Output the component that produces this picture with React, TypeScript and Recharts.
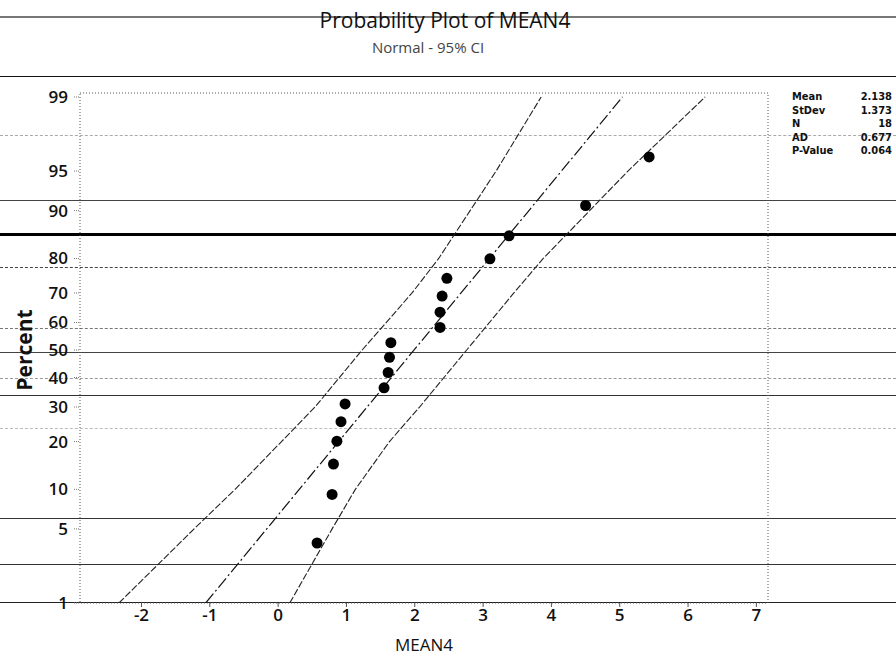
import React from "react";
import { ComposedChart, Line, Scatter, XAxis, YAxis, ReferenceArea } from "recharts";

// percent scale ticks and x ticks
const pctTicks = [1, 5, 10, 20, 30, 40, 50, 60, 70, 80, 90, 95, 99];
const xTicks = [-2, -1, 0, 1, 2, 3, 4, 5, 6, 7];

// observations (sorted) and their plotting percents
const pointX = [0.57, 0.79, 0.81, 0.86, 0.92, 0.98, 1.55, 1.61, 1.63, 1.65, 2.37, 2.37, 2.4, 2.47, 3.1, 3.38, 4.5, 5.43];
const pointPct = [3.8, 9.2, 14.7, 20.1, 25.5, 31.0, 36.4, 41.8, 47.3, 52.7, 58.2, 63.6, 69.0, 74.5, 79.9, 85.3, 90.8, 96.2];

// fitted line and 95% CI bands
const fitPct = [1, 99];
const fitX = [-1.06, 5.04];
const bandPct = [1, 5, 10, 20, 30, 50, 70, 80, 90, 95, 99];
const lowerBandX = [-2.33, -1.23, -0.63, 0.05, 0.54, 1.23, 1.96, 2.35, 2.81, 3.19, 3.85];
const upperBandX = [0.17, 0.79, 1.13, 1.63, 2.07, 2.76, 3.45, 3.88, 4.56, 5.12, 6.25];

const statLabels = ["Mean", "StDev", "N", "AD", "P-Value"];
const statValues = ["2.138", "1.373", "18", "0.677", "0.064"];

// inverse normal cdf (Acklam), used as the probability axis transform
function probit(p: number): number {
  const a = [-39.69683028665376, 220.9460984245205, -275.9285104469687, 138.357751867269, -30.66479806614716, 2.506628277459239];
  const b = [-54.47609879822406, 161.5853874140574, -155.6989798598866, 66.80131188771972, -13.28068155288572];
  const c = [-0.007784894002430293, -0.3223964580411365, -2.400758277161838, -2.549732539343734, 4.374664141464968, 2.938163982698783];
  const d = [0.007784695709041462, 0.3224671290700398, 2.445134137142996, 3.754408661907416];
  const pl = 0.02425;
  if (p < pl) {
    const q = Math.sqrt(-2 * Math.log(p));
    return (((((c[0] * q + c[1]) * q + c[2]) * q + c[3]) * q + c[4]) * q + c[5]) / ((((d[0] * q + d[1]) * q + d[2]) * q + d[3]) * q + 1);
  }
  if (p > 1 - pl) {
    const q = Math.sqrt(-2 * Math.log(1 - p));
    return -(((((c[0] * q + c[1]) * q + c[2]) * q + c[3]) * q + c[4]) * q + c[5]) / ((((d[0] * q + d[1]) * q + d[2]) * q + d[3]) * q + 1);
  }
  const q = p - 0.5;
  const r = q * q;
  return ((((((a[0] * r + a[1]) * r + a[2]) * r + a[3]) * r + a[4]) * r + a[5]) * q) / (((((b[0] * r + b[1]) * r + b[2]) * r + b[3]) * r + b[4]) * r + 1);
}

const toRows = (xs: number[], ps: number[]) => xs.map((x, i) => ({ x, z: probit(ps[i] / 100) }));

const points = toRows(pointX, pointPct);
const fit = toRows(fitX, fitPct);
const lower = toRows(lowerBandX, bandPct);
const upper = toRows(upperBandX, bandPct);
const zTicks = pctTicks.map((p) => probit(p / 100));
const zMin = probit(0.01);
const zMax = 2.363;

const pctLabel = (v: number) => {
  let best = 0;
  zTicks.forEach((z, i) => {
    if (Math.abs(z - v) < Math.abs(zTicks[best] - v)) best = i;
  });
  return String(pctTicks[best]);
};

// scanned notebook paper rules
const paperRules = [
  { y: 17, w: 2, c: "#777", dash: false },
  { y: 77, w: 1.5, c: "#111", dash: false },
  { y: 135, w: 1, c: "#aaa", dash: true },
  { y: 200, w: 1, c: "#444", dash: false },
  { y: 234, w: 3, c: "#000", dash: false },
  { y: 267, w: 1, c: "#444", dash: true },
  { y: 328, w: 1, c: "#777", dash: true },
  { y: 352, w: 1, c: "#444", dash: false },
  { y: 378, w: 1, c: "#999", dash: true },
  { y: 395, w: 1, c: "#333", dash: false },
  { y: 428, w: 1, c: "#bbb", dash: true },
  { y: 518, w: 1, c: "#333", dash: false },
  { y: 564, w: 1, c: "#333", dash: false },
  { y: 603, w: 1.5, c: "#222", dash: false },
];

const font = "'Open Sans', 'DejaVu Sans', sans-serif";
const tickStyle = { fill: "#111", fontSize: 17, fontWeight: 600, fontFamily: font };

export default function App() {
  return (
    <div style={{ position: "absolute", left: 0, top: 0, width: 896, height: 661, background: "#fff", overflow: "hidden" }}>
      {paperRules.map((r) => (
        <div
          key={r.y}
          style={{
            position: "absolute",
            left: 0,
            width: 896,
            top: r.y - r.w / 2,
            borderTop: `${r.w}px ${r.dash ? "dashed" : "solid"} ${r.c}`,
          }}
        />
      ))}
      <ComposedChart width={896} height={661} margin={{ top: 93, right: 128, bottom: 0, left: 0 }} style={{ position: "absolute", left: 0, top: 0 }}>
        <XAxis
          dataKey="x"
          type="number"
          domain={[-2.9, 7.17]}
          ticks={xTicks}
          allowDataOverflow
          height={58}
          axisLine={false}
          tickLine={{ stroke: "#555" }}
          tickSize={4}
          tick={tickStyle}
        />
        <YAxis
          dataKey="z"
          type="number"
          domain={[zMin, zMax]}
          ticks={zTicks}
          allowDataOverflow
          width={80}
          axisLine={false}
          tickLine={{ stroke: "#777", strokeDasharray: "1 1" }}
          tickSize={6}
          tickMargin={6}
          tickFormatter={pctLabel}
          tick={tickStyle}
        />
        <ReferenceArea x1={-2.9} x2={7.17} y1={zMin} y2={zMax} fill="none" stroke="#555" strokeDasharray="1 2" />
        <Line data={lower} dataKey="z" stroke="#222" strokeWidth={1.1} strokeDasharray="7 2" dot={false} isAnimationActive={false} />
        <Line data={fit} dataKey="z" stroke="#111" strokeWidth={1.2} strokeDasharray="12 3 2 3" dot={false} isAnimationActive={false} />
        <Line data={upper} dataKey="z" stroke="#222" strokeWidth={1.1} strokeDasharray="7 2" dot={false} isAnimationActive={false} />
        <Scatter
          data={points}
          fill="#000"
          isAnimationActive={false}
          shape={(p: any) => <circle cx={p.cx} cy={p.cy} r={5.5} fill="#000" />}
        />
      </ComposedChart>
      <div style={{ position: "absolute", left: 245, width: 400, top: 6, textAlign: "center", fontFamily: font, fontSize: 21, color: "#111", lineHeight: "28px" }}>
        Probability Plot of MEAN4
      </div>
      <div style={{ position: "absolute", left: 228, width: 400, top: 37, textAlign: "center", fontFamily: font, fontSize: 15, color: "#444", lineHeight: "20px" }}>
        Normal - 95% CI
      </div>
      <div style={{ position: "absolute", left: 324, width: 200, top: 633, textAlign: "center", fontFamily: font, fontSize: 17, color: "#111", lineHeight: "24px" }}>
        MEAN4
      </div>
      <div
        style={{
          position: "absolute",
          left: 24 - 60,
          top: 350 - 14,
          width: 120,
          height: 28,
          lineHeight: "28px",
          textAlign: "center",
          transform: "rotate(-90deg)",
          fontFamily: font,
          fontSize: 21,
          fontWeight: 700,
          color: "#111",
        }}
      >
        Percent
      </div>
      {statLabels.map((s, i) => (
        <div
          key={s}
          style={{
            position: "absolute",
            left: 792,
            width: 100,
            top: 90 + i * 13.5,
            display: "flex",
            justifyContent: "space-between",
            fontFamily: "'DejaVu Sans Condensed', 'DejaVu Sans', sans-serif",
            fontWeight: 700,
            fontSize: 11,
            lineHeight: "13px",
            color: "#111",
          }}
        >
          <span>{s}</span>
          <span>{statValues[i]}</span>
        </div>
      ))}
    </div>
  );
}
